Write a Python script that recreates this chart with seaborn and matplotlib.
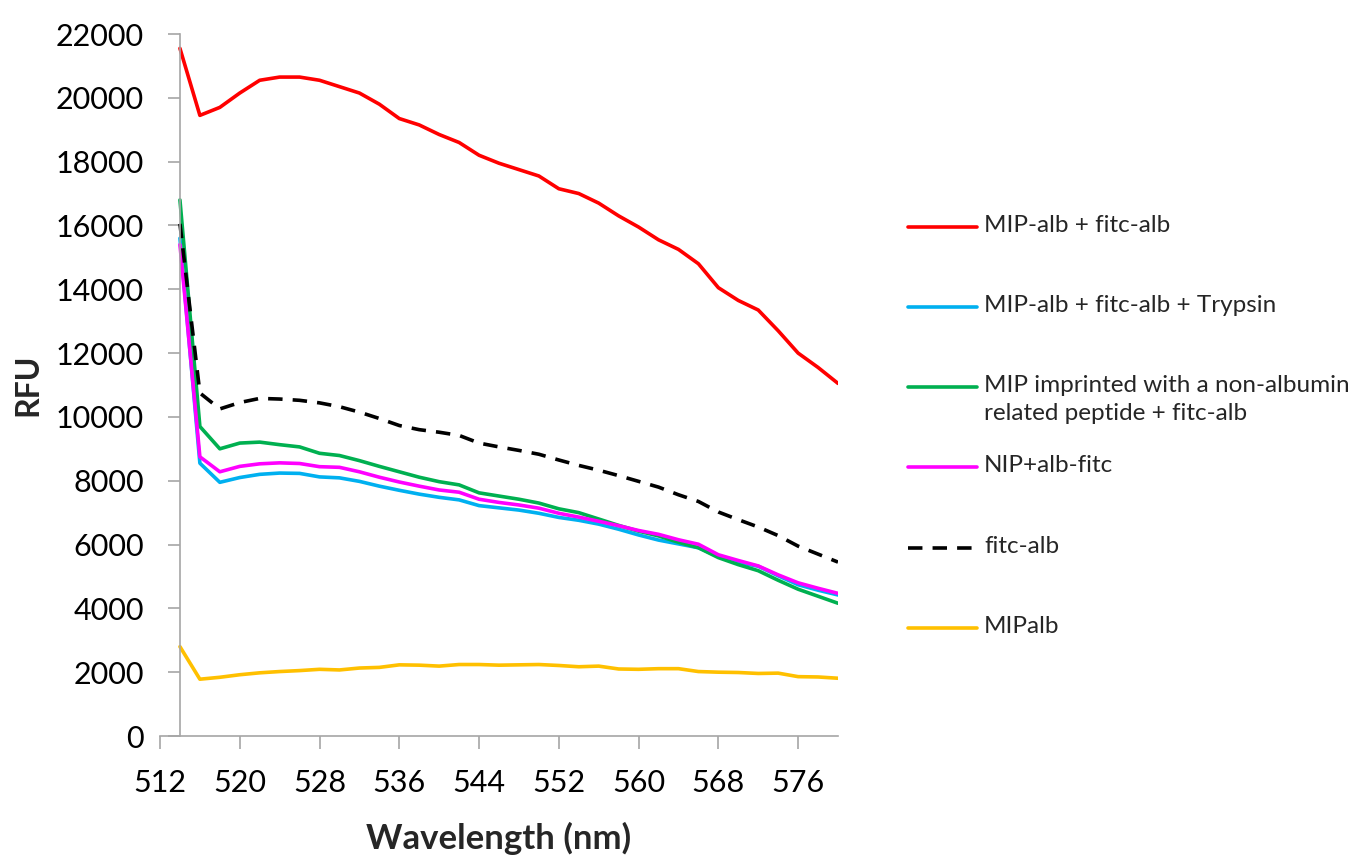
import matplotlib
matplotlib.use("Agg")
import matplotlib.pyplot as plt
from matplotlib.lines import Line2D
import numpy as np
import pandas as pd
import seaborn as sns

# Emission spectra (RFU) sampled every 2 nm
wavelength = list(range(514, 581, 2))

mip_alb_fitc = [21550, 19450, 19700, 20150, 20550, 20650, 20650, 20550, 20350, 20150,
                19800, 19350, 19150, 18850, 18600, 18200, 17950, 17750, 17550, 17150,
                17000, 16700, 16300, 15950, 15550, 15250, 14800, 14050, 13650, 13350,
                12700, 12000, 11550, 11050]
mip_alb_fitc_trypsin = [15600, 8550, 7950, 8100, 8200, 8240, 8230, 8120, 8090, 7980,
                        7830, 7700, 7580, 7480, 7400, 7220, 7150, 7080, 6980, 6850,
                        6760, 6640, 6480, 6300, 6140, 6020, 5900, 5620, 5440, 5320,
                        5020, 4740, 4570, 4420]
mip_nonalb_fitc = [16800, 9700, 9000, 9180, 9210, 9130, 9060, 8860, 8790, 8630,
                   8450, 8280, 8110, 7970, 7870, 7620, 7520, 7420, 7300, 7120,
                   7000, 6800, 6600, 6420, 6270, 6070, 5900, 5590, 5370, 5180,
                   4880, 4600, 4380, 4160]
nip_alb_fitc = [15400, 8750, 8280, 8450, 8530, 8560, 8540, 8440, 8420, 8280,
                8110, 7960, 7830, 7710, 7640, 7420, 7320, 7240, 7140, 6980,
                6860, 6730, 6590, 6440, 6320, 6150, 6010, 5680, 5500, 5330,
                5050, 4800, 4630, 4470]
fitc_alb = [16050, 10750, 10250, 10450, 10580, 10560, 10520, 10440, 10320, 10150,
            9950, 9730, 9600, 9520, 9420, 9180, 9060, 8950, 8830, 8650,
            8480, 8330, 8160, 7980, 7800, 7560, 7350, 7020, 6780, 6550,
            6280, 5950, 5700, 5450]
mipalb = [2800, 1780, 1840, 1920, 1980, 2020, 2050, 2090, 2070, 2130,
          2150, 2230, 2220, 2190, 2240, 2240, 2220, 2230, 2240, 2210,
          2170, 2190, 2100, 2090, 2110, 2110, 2020, 2000, 1990, 1960,
          1970, 1860, 1850, 1810]

series_names = [
    "MIP-alb + fitc-alb",
    "MIP-alb + fitc-alb + Trypsin",
    "MIP imprinted with a non-albumin\nrelated peptide + fitc-alb",
    "NIP+alb-fitc",
    "fitc-alb",
    "MIPalb",
]
series_values = [mip_alb_fitc, mip_alb_fitc_trypsin, mip_nonalb_fitc,
                 nip_alb_fitc, fitc_alb, mipalb]
colors = ["#ff0000", "#00b0f0", "#00b050", "#ff00ff", "#000000", "#ffc000"]
y_ticks = list(range(0, 22001, 2000))
x_ticks = list(range(512, 577, 8))

df = pd.concat(
    [pd.DataFrame({"Wavelength": wavelength, "RFU": vals, "series": name})
     for name, vals in zip(series_names, series_values)],
    ignore_index=True,
)

sns.set_theme(style="white")
plt.rcParams["font.family"] = ["Lato", "DejaVu Sans"]

fig = plt.figure(figsize=(13.63, 8.55), dpi=100)
W, H = 1363, 855
ax = fig.add_axes([160 / W, 1 - 736 / H, (838 - 160) / W, (736 - 34) / H])

palette = dict(zip(series_names, colors))
dash_styles = {n: "" for n in series_names}
dash_styles["fitc-alb"] = (4, 2.8)

# Draw so that the dashed and red curves sit above the overlapping ones
draw_order = [series_names[i] for i in (5, 1, 2, 3, 4, 0)]
sns.lineplot(data=df, x="Wavelength", y="RFU", hue="series", style="series",
             hue_order=draw_order, style_order=draw_order,
             palette=palette, dashes=dash_styles, linewidth=2.6,
             legend=False, ax=ax, sort=False)

ax.set_xlim(512, 580)
ax.set_ylim(0, 22000)
ax.set_xticks(x_ticks)
ax.set_yticks(y_ticks)
ax.set_xticklabels([str(t) for t in x_ticks])
ax.set_yticklabels([str(t) for t in y_ticks])

spine_color = "#a6a6a6"
for s in ("top", "right"):
    ax.spines[s].set_visible(False)
ax.spines["left"].set_position(("data", 514))
for s in ("left", "bottom"):
    ax.spines[s].set_color(spine_color)
    ax.spines[s].set_linewidth(1.2)

ax.tick_params(axis="both", which="major", direction="out", length=9,
               width=1.2, color=spine_color, labelsize=22, labelcolor="black")
ax.tick_params(axis="y", pad=17, left=True)
ax.tick_params(axis="x", pad=15, bottom=True)

ax.set_xlabel("")
ax.set_ylabel("")
fig.text(499 / W, 1 - 838 / H, "Wavelength (nm)", ha="center", va="center",
         fontsize=25, fontweight="bold")
fig.text(28 / W, 1 - 385 / H, "RFU", ha="center", va="center", rotation=90,
         fontsize=23, fontweight="bold")

# Legend on the right
legend_y = [227, 307, 387, 467, 548, 628]
for name, color, yp in zip(series_names, colors, legend_y):
    ls = (0, (4, 2.8)) if name == "fitc-alb" else "-"
    fig.add_artist(Line2D([908 / W, 977 / W], [1 - yp / H, 1 - yp / H],
                          color=color, linewidth=2.6, linestyle=ls,
                          transform=fig.transFigure))
    fig.text(984 / W, 1 - (yp - 12) / H, name, ha="left", va="top",
             fontsize=17.5, linespacing=1.4)

fig.savefig("out.png", dpi=100, facecolor="white")
